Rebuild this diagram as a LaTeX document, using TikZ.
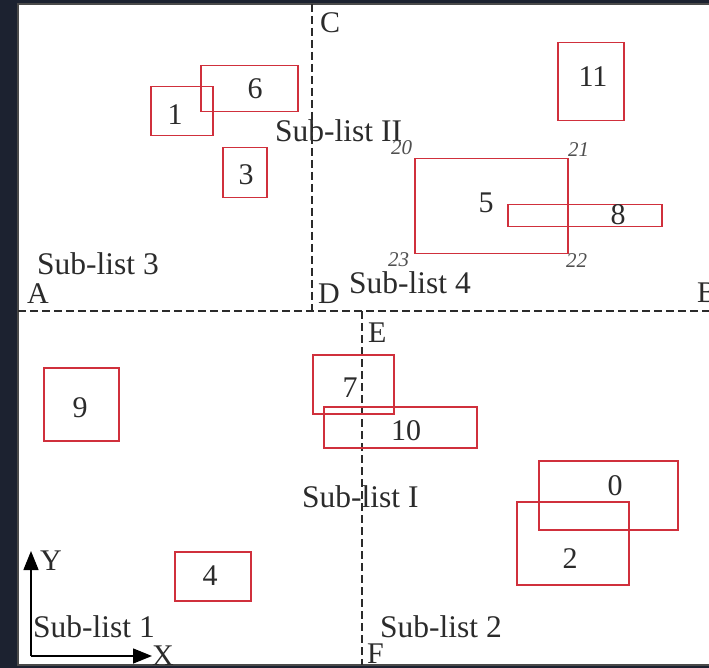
\documentclass[tikz,border=0pt]{standalone}
\usepackage{fontspec}
\setmainfont{Liberation Serif}
\usetikzlibrary{arrows.meta}
\definecolor{boxred}{HTML}{D0303C}
\definecolor{ink}{HTML}{2B2B2B}
\definecolor{corner}{HTML}{505050}
\definecolor{backdrop}{HTML}{1C2230}
\definecolor{framegray}{HTML}{4A4A4A}
\tikzset{
  box/.style={draw=boxred, line width=1.5pt, inner sep=0pt, anchor=north west},
  num/.style={anchor=base, inner sep=0pt, text=ink, font=\fontsize{30}{30}\selectfont},
  letter/.style={anchor=base west, inner sep=0pt, text=ink, font=\fontsize{30}{30}\selectfont},
  sublist/.style={anchor=base west, inner sep=0pt, text=ink, font=\fontsize{31.5}{32}\selectfont},
  cornernum/.style={anchor=base west, inner sep=0pt, text=corner, font=\fontsize{21}{21}\selectfont\itshape},
  divider/.style={draw=ink, line width=1.4pt, dash pattern=on 8pt off 4pt},
  axis/.style={draw=black, line width=1.5pt, -{Triangle[length=19pt,width=15pt]}},
}
\begin{document}
\begin{tikzpicture}[x=1pt, y=-1pt]
  \useasboundingbox (0,0) rectangle (709,668);
  % backdrop and white sheet
  \fill[backdrop] (0,0) rectangle (709,668);
  \fill[white] (17,3) rectangle (709,666);
  \draw[framegray, line width=2pt] (709,4) -- (18,4) -- (18,665) -- (709,665);

  % dividing lines
  \coordinate (A) at (18,311);
  \coordinate (B) at (709,311);
  \coordinate (C) at (312,4);
  \coordinate (D) at (312,311);
  \coordinate (E) at (362,311);
  \coordinate (F) at (362,665);
  \draw[divider] (A) -- (B);
  \draw[divider] (C) -- (D);
  \draw[divider] (E) -- (F);

  % point labels
  \node[letter] (lA) at (27,303) {A};
  \node[letter] (lB) at (697,302) {B};
  \node[letter] (lC) at (320,33) {C};
  \node[letter] (lD) at (318,303) {D};
  \node[letter] (lE) at (368,342) {E};
  \node[letter] (lF) at (367,663) {F};

  % sub-list labels
  \node[sublist] (s3) at (37,275) {Sub-list 3};
  \node[sublist] (s4) at (349,293) {Sub-list 4};
  \node[sublist] (sII) at (275,142) {Sub-list II};
  \node[sublist] (sI) at (302,507) {Sub-list I};
  \node[sublist] (s1) at (33,637) {Sub-list 1};
  \node[sublist] (s2) at (380,637) {Sub-list 2};

  % rectangles
  \node[box, minimum width=62pt, minimum height=49pt] (r1) at (150,86) {};
  \node[box, minimum width=97pt, minimum height=46pt] (r6) at (200,65) {};
  \node[box, minimum width=44pt, minimum height=50pt] (r3) at (222,147) {};
  \node[box, minimum width=66pt, minimum height=78pt] (r11) at (557,42) {};
  \node[box, minimum width=153pt, minimum height=95pt] (r5) at (414,158) {};
  \node[box, minimum width=154pt, minimum height=22pt] (r8) at (507,204) {};
  \node[box, minimum width=81pt, minimum height=59pt] (r7) at (312,354) {};
  \node[box, minimum width=153pt, minimum height=41pt] (r10) at (323,406) {};
  \node[box, minimum width=139pt, minimum height=69pt] (r0) at (538,460) {};
  \node[box, minimum width=112pt, minimum height=83pt] (r2) at (516,501) {};
  \node[box, minimum width=75pt, minimum height=73pt] (r9) at (43,367) {};
  \node[box, minimum width=76pt, minimum height=49pt] (r4) at (174,551) {};

  % rectangle numbers
  \node[num] (n1) at (175,125) {1};
  \node[num] (n6) at (255,99) {6};
  \node[num] (n3) at (246,185) {3};
  \node[num] (n11) at (593,87) {11};
  \node[num] (n5) at (486,213) {5};
  \node[num] (n8) at (618,225) {8};
  \node[num] (n7) at (350,397) {7};
  \node[num] (n10) at (406,440) {10};
  \node[num] (n0) at (615,495) {0};
  \node[num] (n2) at (570,568) {2};
  \node[num] (n9) at (80,417) {9};
  \node[num] (n4) at (210,585) {4};

  % corner numbers of rectangle 5
  \node[cornernum] (c20) at (391,155) {20};
  \node[cornernum] (c21) at (568,157) {21};
  \node[cornernum] (c23) at (388,267) {23};
  \node[cornernum] (c22) at (566,268) {22};

  % axes
  \coordinate (O) at (31,656);
  \coordinate (Ytip) at (31,551);
  \coordinate (Xtip) at (152,656);
  \draw[axis] (O) -- (Ytip);
  \draw[axis] (O) -- (Xtip);
  \node[letter] (lY) at (40,570) {Y};
  \node[letter] (lX) at (152,665) {X};
\end{tikzpicture}
\end{document}
